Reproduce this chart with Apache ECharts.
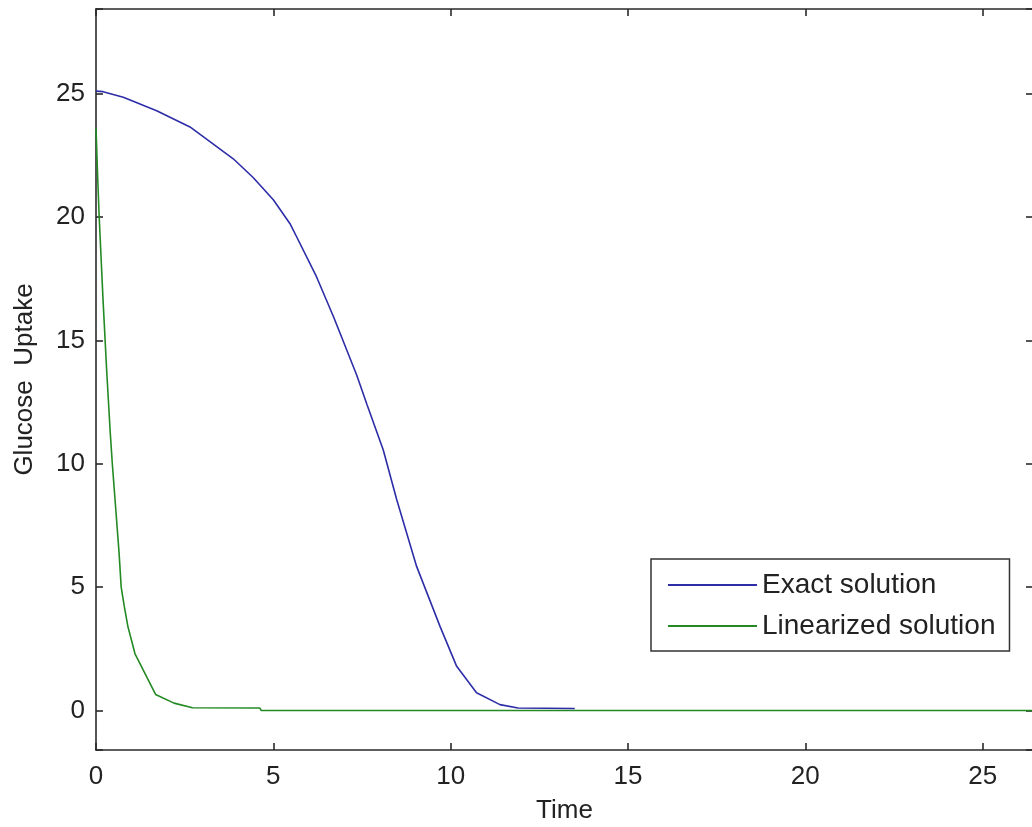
<!DOCTYPE html>
<html>
<head>
<meta charset="utf-8">
<script src="https://cdn.jsdelivr.net/npm/echarts@6/dist/echarts.min.js"></script>
<style>
html,body{margin:0;padding:0;background:#fff;}
#c{width:1032px;height:827px;}
</style>
</head>
<body>
<div id="c"></div>
<script>
// ---- data ----
var seriesNames = ['Exact solution', 'Linearized solution'];
var exactT = [0, 0.2, 0.77, 1.71, 2.65, 3.87, 4.43, 5.0, 5.47, 5.66, 6.22, 6.70, 7.35, 7.64, 8.10, 8.48, 9.04, 9.70, 10.17, 10.73, 11.39, 11.9, 13.5];
var exactV = [25.1, 25.08, 24.85, 24.31, 23.65, 22.36, 21.6, 20.7, 19.73, 19.19, 17.57, 15.95, 13.6, 12.4, 10.56, 8.54, 5.84, 3.41, 1.79, 0.72, 0.24, 0.1, 0.08];
var linT = [0, 0.05, 0.09, 0.2, 0.3, 0.4, 0.46, 0.55, 0.65, 0.71, 0.8, 0.9, 1.1, 1.68, 2.2, 2.72, 4.62, 4.66, 26.5];
var linV = [23.6, 21.5, 20.0, 16.6, 13.8, 11.3, 10.0, 8.3, 6.4, 5.0, 4.2, 3.4, 2.3, 0.65, 0.3, 0.11, 0.1, 0.0, 0.0];
var xTicks = [0, 5, 10, 15, 20, 25];
var yTicks = [0, 5, 10, 15, 20, 25];
var xRange = [0, 26.42];
var yRange = [-1.6, 28.43];

function pairs(t, v) { return t.map(function (x, i) { return [x, v[i]]; }); }
function tickFmt(list) {
  return function (val) {
    for (var i = 0; i < list.length; i++) { if (Math.abs(val - list[i]) < 1e-6) return String(list[i]); }
    return '';
  };
}

var FONT = "'Liberation Sans', Arial, sans-serif";
var AX = '#2a2a2a';
var chart = echarts.init(document.getElementById('c'));
var axisCommon = {
  axisLine: { show: true, onZero: false, lineStyle: { color: AX, width: 1.6 } },
  axisTick: { show: true, inside: true, length: 7, lineStyle: { color: AX, width: 1.6 } },
  splitLine: { show: false }
};
chart.setOption({
  backgroundColor: '#ffffff',
  animation: false,
  grid: { left: 96, top: 9, width: 937, height: 741, containLabel: false, outerBoundsMode: 'none' },
  legend: {
    orient: 'vertical', left: 651, top: 559,
    padding: [11, 14, 10, 16],
    borderColor: '#333', borderWidth: 1.5, backgroundColor: '#fff',
    itemGap: 11, itemWidth: 89, itemHeight: 14,
    itemStyle: { opacity: 0 },
    textStyle: { fontFamily: FONT, fontSize: 28, lineHeight: 30, color: '#222' },
    data: seriesNames
  },
  xAxis: [
    Object.assign({
      type: 'value', position: 'bottom', min: xRange[0], max: xRange[1], interval: 5,
      name: 'Time', nameLocation: 'middle', nameGap: 48,
      nameTextStyle: { fontFamily: FONT, fontSize: 26, color: '#222' },
      axisLabel: { formatter: tickFmt(xTicks), margin: 14, fontFamily: FONT, fontSize: 26, color: '#222' }
    }, axisCommon),
    Object.assign({
      type: 'value', position: 'top', min: xRange[0], max: xRange[1], interval: 5,
      axisLabel: { show: false }
    }, axisCommon)
  ],
  yAxis: [
    Object.assign({
      type: 'value', position: 'left', min: yRange[0], max: yRange[1], splitNumber: 6,
      name: 'Glucose  Uptake', nameLocation: 'middle', nameGap: 58,
      nameTextStyle: { fontFamily: FONT, fontSize: 26, color: '#222' },
      axisLabel: { formatter: tickFmt(yTicks), margin: 11, fontFamily: FONT, fontSize: 26, color: '#222' }
    }, axisCommon),
    Object.assign({
      type: 'value', position: 'right', min: yRange[0], max: yRange[1], splitNumber: 6,
      axisLabel: { show: false }
    }, axisCommon)
  ],
  series: [
    {
      name: seriesNames[0], type: 'line', xAxisIndex: 0, yAxisIndex: 0,
      data: pairs(exactT, exactV), symbol: 'none', smooth: false,
      lineStyle: { color: '#2d2da8', width: 1.6 }, itemStyle: { color: '#2d2da8' }, z: 3
    },
    {
      name: seriesNames[1], type: 'line', xAxisIndex: 0, yAxisIndex: 0,
      data: pairs(linT, linV), symbol: 'none', smooth: false,
      lineStyle: { color: '#238a23', width: 1.6 }, itemStyle: { color: '#238a23' }, z: 2
    }
  ]
});
</script>
</body>
</html>
